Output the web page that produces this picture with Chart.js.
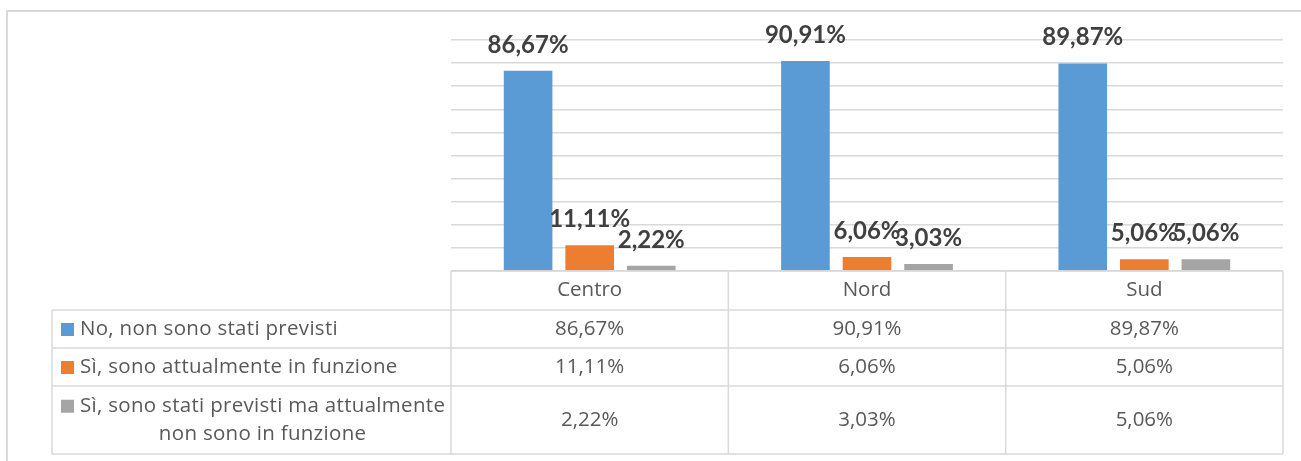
<!DOCTYPE html>
<html>
<head>
<meta charset="utf-8">
<script src="https://cdn.jsdelivr.net/npm/chart.js@4/dist/chart.umd.min.js"></script>
<style>
  html, body { margin: 0; padding: 0; background: #ffffff; }
  #wrap { position: relative; width: 1301px; height: 461px; }
  canvas { display: block; }
</style>
</head>
<body>
<div id="wrap"><canvas id="c" width="1301" height="461"></canvas></div>
<script>
// ---- data ----
const categories = ['Centro', 'Nord', 'Sud'];
const seriesNames = [
  'No, non sono stati previsti',
  'Sì, sono attualmente in funzione',
  'Sì, sono stati previsti ma attualmente non sono in funzione'
];
const seriesNameLines = [
  ['No, non sono stati previsti'],
  ['Sì, sono attualmente in funzione'],
  ['Sì, sono stati previsti ma attualmente', 'non sono in funzione']
];
const noPrevisti = [86.67, 90.91, 89.87];
const siInFunzione = [11.11, 6.06, 5.06];
const siNonInFunzione = [2.22, 3.03, 5.06];
const seriesColors = ['#5B9BD5', '#ED7D31', '#A5A5A5'];
const yTicks = [0, 10, 20, 30, 40, 50, 60, 70, 80, 90, 100];

const fmt = v => v.toFixed(2).replace('.', ',') + '%';
const LABEL_FONT = 'bold 24px Lato, "Open Sans", sans-serif';
const TABLE_FONT = '20.5px "Open Sans", Lato, sans-serif';
const LINE = '#D9D9D9';

const frame = {
  id: 'frame',
  beforeDraw(chart) {
    const ctx = chart.ctx;
    ctx.save();
    ctx.strokeStyle = LINE;
    ctx.lineWidth = 2;
    ctx.beginPath();
    ctx.moveTo(7, 461);
    ctx.lineTo(7, 11);
    ctx.lineTo(1301, 11);
    ctx.stroke();
    ctx.restore();
  }
};

const dataLabels = {
  id: 'dataLabels',
  afterDatasetsDraw(chart) {
    const ctx = chart.ctx;
    ctx.save();
    ctx.font = LABEL_FONT;
    ctx.fillStyle = '#404040';
    ctx.textAlign = 'center';
    ctx.textBaseline = 'middle';
    chart.data.datasets.forEach((ds, di) => {
      const meta = chart.getDatasetMeta(di);
      meta.data.forEach((bar, i) => {
        ctx.fillText(fmt(ds.data[i]), bar.x, bar.y - 26);
      });
    });
    ctx.restore();
  }
};

const dataTable = {
  id: 'dataTable',
  afterDraw(chart) {
    const ctx = chart.ctx;
    const area = chart.chartArea;
    const xs = chart.scales.x;
    const n = categories.length;
    const colW = (area.right - area.left) / n;
    const legendLeft = 52;
    const top = area.bottom;
    const rows = [top, top + 39, top + 77, top + 115, top + 183];
    ctx.save();
    ctx.strokeStyle = LINE;
    ctx.lineWidth = 1.5;
    ctx.beginPath();
    ctx.moveTo(area.left, rows[0]); ctx.lineTo(area.right, rows[0]);
    for (let r = 1; r < rows.length; r++) {
      ctx.moveTo(legendLeft, rows[r]); ctx.lineTo(area.right, rows[r]);
    }
    ctx.moveTo(legendLeft, rows[1]); ctx.lineTo(legendLeft, rows[4]);
    for (let c = 0; c <= n; c++) {
      const x = area.left + c * colW;
      ctx.moveTo(x, rows[0]); ctx.lineTo(x, rows[4]);
    }
    ctx.stroke();

    ctx.fillStyle = '#595959';
    ctx.font = TABLE_FONT;
    ctx.textBaseline = 'middle';
    ctx.textAlign = 'center';
    categories.forEach((cat, i) => {
      ctx.fillText(cat, xs.getPixelForValue(i), (rows[0] + rows[1]) / 2);
    });
    chart.data.datasets.forEach((ds, di) => {
      const cy = (rows[di + 1] + rows[di + 2]) / 2;
      ds.data.forEach((v, i) => {
        ctx.textAlign = 'center';
        ctx.fillStyle = '#595959';
        ctx.fillText(fmt(v), xs.getPixelForValue(i), cy);
      });
      const lines = seriesNameLines[di];
      const lineH = 28.5;
      const y0 = cy - (lines.length - 1) * lineH / 2;
      ctx.fillStyle = ds.backgroundColor;
      ctx.fillRect(61, y0 - 6, 13, 13);
      ctx.fillStyle = '#595959';
      ctx.letterSpacing = '0.3px';
      ctx.textAlign = 'left';
      const textX = 80;
      const w0 = ctx.measureText(lines[0]).width;
      ctx.fillText(lines[0], textX, y0);
      for (let l = 1; l < lines.length; l++) {
        ctx.textAlign = 'center';
        ctx.fillText(lines[l], textX + w0 / 2, y0 + l * lineH);
      }
      ctx.letterSpacing = '0px';
    });
    ctx.restore();
  }
};

new Chart(document.getElementById('c'), {
  type: 'bar',
  data: {
    labels: categories,
    datasets: [
      { label: seriesNames[0], data: noPrevisti, backgroundColor: seriesColors[0] },
      { label: seriesNames[1], data: siInFunzione, backgroundColor: seriesColors[1] },
      { label: seriesNames[2], data: siNonInFunzione, backgroundColor: seriesColors[2] }
    ]
  },
  options: {
    responsive: false,
    devicePixelRatio: 1,
    animation: false,
    layout: { padding: { left: 451, right: 18, top: 40, bottom: 190 } },
    datasets: { bar: { categoryPercentage: 0.666, barPercentage: 0.79 } },
    plugins: { legend: { display: false }, tooltip: { enabled: false } },
    scales: {
      x: { display: false },
      y: {
        display: true,
        min: 0,
        max: 100,
        afterBuildTicks: axis => { axis.ticks = yTicks.map(v => ({ value: v })); },
        ticks: { display: false },
        border: { display: false },
        grid: { color: LINE, lineWidth: 1.5, drawTicks: false }
      }
    }
  },
  plugins: [frame, dataLabels, dataTable]
});
</script>
</body>
</html>
